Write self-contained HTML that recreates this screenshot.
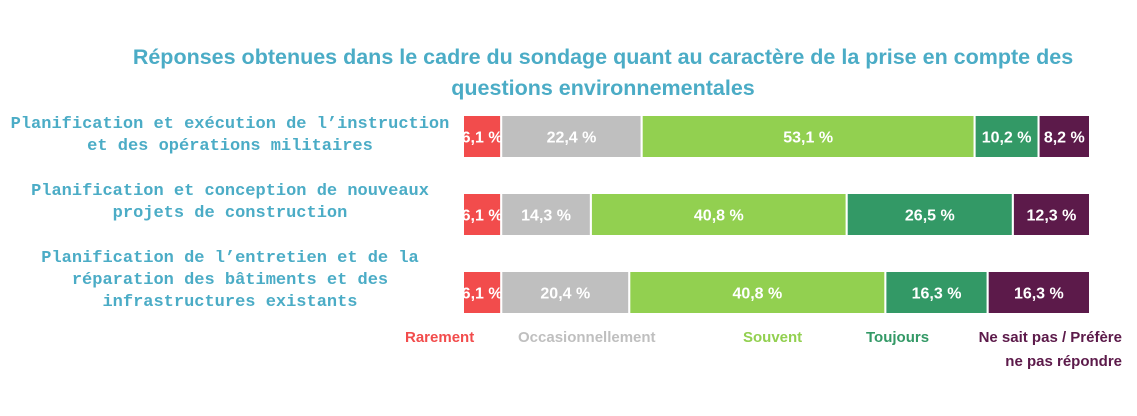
<!DOCTYPE html>
<html><head><meta charset="utf-8"><style>
body{margin:0;background:#fff;width:1137px;height:416px;overflow:hidden;position:relative;font-family:"Liberation Sans",sans-serif}
.title{position:absolute;left:50px;width:1106px;top:42px;text-align:center;color:#4bacc6;font-weight:bold;font-size:21.5px;line-height:31px}
.cat{position:absolute;left:0;width:460px;text-align:center;color:#4bacc6;font-family:"Liberation Mono",monospace;font-weight:bold;font-size:17px;line-height:22px}
.leg{position:absolute;font-family:"Liberation Sans",sans-serif;font-weight:bold;font-size:15px;line-height:24px}
svg{position:absolute;left:0;top:0}
</style></head><body>
<div class="title">Réponses obtenues dans le cadre du sondage quant au caractère de la prise en compte des<br>questions environnementales</div>
<div class="cat" style="top:114px">Planification et exécution de l’instruction<br>et des opérations militaires</div>
<div class="cat" style="top:181px">Planification et conception de nouveaux<br>projets de construction</div>
<div class="cat" style="top:248px">Planification de l’entretien et de la<br>réparation des bâtiments et des<br>infrastructures existants</div>
<svg id="chart" width="1137" height="416"></svg>
<div class="leg" style="left:405px;top:326px;color:#f24c4c">Rarement</div>
<div class="leg" style="left:518px;top:326px;color:#bfbfbf">Occasionnellement</div>
<div class="leg" style="left:743px;top:326px;color:#92d050">Souvent</div>
<div class="leg" style="left:866px;top:326px;color:#339966">Toujours</div>
<div class="leg" style="left:960px;top:326px;width:162px;text-align:right;color:#5c1a4a">Ne sait pas / Préfère<br>ne pas répondre</div>
<script>
const categories=["Planification et exécution","Planification et conception","Planification de l’entretien"];
const rarement=[6.1,6.1,6.1];
const occasionnellement=[22.4,14.3,20.4];
const souvent=[53.1,40.8,40.8];
const toujours=[10.2,26.5,16.3];
const neSaitPas=[8.2,12.3,16.3];
const series=[rarement,occasionnellement,souvent,toujours,neSaitPas];
const names=["rarement","occasionnellement","souvent","toujours","ne-sait-pas"];
const colors=["#f24c4c","#bfbfbf","#92d050","#339966","#5c1a4a"];
const X0=463,W=627,rowTop=[115,193,271],H=43;
const svg=document.getElementById('chart');
const NS="http://www.w3.org/2000/svg";
categories.forEach((c,i)=>{
  let tot=series.reduce((s,a)=>s+a[i],0);
  let acc=0;
  series.forEach((a,k)=>{
    const x=X0+acc/tot*W,w=a[i]/tot*W;acc+=a[i];
    const r=document.createElementNS(NS,'rect');
    r.setAttribute('x',x);r.setAttribute('y',rowTop[i]);r.setAttribute('width',w);r.setAttribute('height',H);
    r.setAttribute('fill',colors[k]);r.setAttribute('stroke','#fff');r.setAttribute('stroke-width','2');
    
    
    svg.appendChild(r);
    const t=document.createElementNS(NS,'text');
    t.setAttribute('x',x+w/2);t.setAttribute('y',rowTop[i]+H/2+6);t.setAttribute('text-anchor','middle');
    t.setAttribute('fill','#fff');t.setAttribute('font-weight','bold');t.setAttribute('font-size','16');
    t.setAttribute('font-family','"Liberation Sans",sans-serif');
    t.textContent=a[i].toFixed(1).replace('.',',')+' %';
    
    
    svg.appendChild(t);
  });
});
</script>
</body></html>
